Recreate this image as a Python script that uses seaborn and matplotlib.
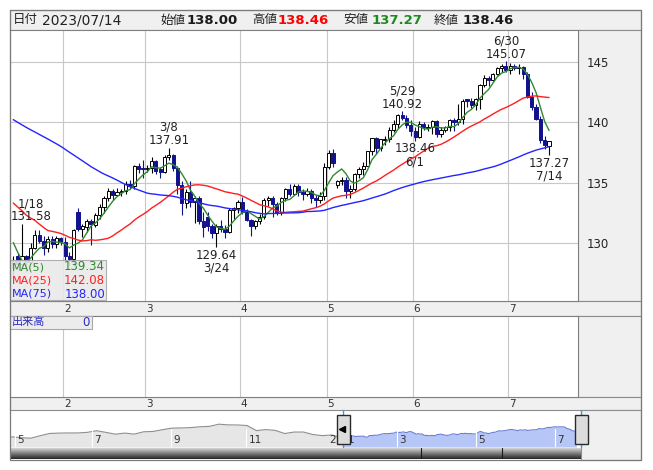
from __future__ import annotations

import matplotlib

matplotlib.use("Agg")

import matplotlib.pyplot as plt
import numpy as np
import pandas as pd
import seaborn as sns
from matplotlib.colors import LinearSegmentedColormap
from matplotlib.lines import Line2D
from matplotlib.patches import Rectangle

W, H = 653, 470

# daily candles, Tokyo business days 2023-01-16 .. 2023-07-14
first_day = "2023-01-16"
last_day = "2023-07-14"
holidays = ["2023-02-23", "2023-03-21", "2023-05-03", "2023-05-04", "2023-05-05"]

opens = [
    127.9, 128.9, 128.3, 128.9, 128.4, 129.6, 130.7, 130.2, 129.6, 130.3, 129.9, 130.4,
    130.1, 128.9, 128.7, 132.6, 131.2, 131.3, 131.8, 131.5, 132.3, 133.0, 133.7, 134.3, 134.0, 134.2, 134.3, 134.9, 134.7, 136.4, 136.2,
    136.1, 136.2, 136.8, 136.1, 135.9, 137.1, 137.3, 136.2, 134.8, 133.3, 134.2, 133.4, 133.7, 131.8, 132.2, 131.4, 130.8, 131.4, 131.2, 130.9, 132.7, 132.9,
    133.4, 132.6, 131.9, 131.4, 131.8, 132.2, 133.6, 133.7, 133.2, 132.6, 133.7, 134.5, 134.1, 134.7, 134.2, 134.1, 134.3, 133.7, 133.6, 133.9,
    136.3, 137.5, 134.8, 135.1, 135.2, 134.3, 134.5, 135.7, 136.1, 136.4, 137.6, 138.7, 137.9, 138.5, 138.6, 139.4, 139.9, 140.6, 140.4, 139.8,
    139.3, 138.8, 139.9, 139.5, 139.6, 140.1, 139.0, 139.4, 139.6, 140.2, 140.0, 140.3, 141.9, 141.8, 141.4, 141.9, 143.1, 143.7, 143.5, 144.0, 144.5, 144.7,
    144.3, 144.7, 144.5, 144.6, 144.0, 142.1, 141.3, 140.3, 138.5, 138.0,
]
highs = [
    128.9, 129.2, 131.58, 129.0, 130.0, 131.1, 131.1, 130.6, 130.6, 130.6, 130.6, 130.5,
    130.5, 129.3, 131.2, 132.9, 131.6, 132.0, 132.0, 132.5, 133.2, 133.9, 134.6, 134.5, 134.6, 134.5, 135.1, 135.2, 136.5, 136.6, 136.9,
    136.5, 137.1, 136.9, 136.3, 137.3, 137.91, 137.4, 136.4, 135.1, 134.5, 135.1, 133.9, 133.9, 132.6, 132.6, 131.6, 131.6, 131.9, 131.5, 132.9, 133.0, 133.6,
    133.8, 132.8, 132.0, 131.9, 132.4, 133.7, 133.9, 133.9, 133.4, 133.8, 134.6, 134.9, 134.9, 134.9, 134.5, 134.6, 134.5, 134.0, 134.2, 136.6,
    137.7, 137.8, 135.2, 135.5, 135.5, 134.8, 135.8, 136.3, 136.7, 137.6, 138.7, 138.8, 138.6, 138.9, 139.6, 140.2, 140.7, 140.92, 140.6, 140.2,
    139.6, 140.1, 140.0, 139.9, 140.2, 140.2, 139.6, 139.7, 140.3, 140.4, 141.5, 141.9, 141.9, 142.0, 142.0, 143.2, 143.9, 143.8, 144.1, 144.6, 144.8, 145.07,
    144.9, 144.8, 144.8, 144.7, 144.2, 142.5, 141.5, 140.5, 138.9, 138.46,
]
lows = [
    127.2, 127.9, 128.0, 127.6, 128.3, 129.5, 130.0, 129.0, 129.3, 129.6, 129.6, 129.8,
    128.5, 128.1, 128.1, 131.0, 130.5, 130.9, 129.8, 131.3, 132.0, 132.5, 133.5, 133.6, 133.9, 133.9, 134.1, 134.5, 134.5, 135.8, 135.4,
    135.9, 135.8, 135.7, 135.4, 135.8, 136.9, 136.0, 134.1, 132.3, 132.9, 133.0, 131.7, 131.6, 130.5, 131.0, 130.4, 129.64, 130.9, 130.4, 130.8, 132.0, 132.5,
    132.4, 131.8, 130.6, 131.2, 131.6, 132.0, 133.1, 132.2, 132.3, 132.3, 133.5, 133.9, 134.0, 133.9, 133.6, 133.9, 133.3, 133.0, 133.3, 133.6,
    136.1, 136.3, 134.6, 134.8, 133.7, 133.7, 134.3, 135.4, 135.6, 136.3, 137.3, 137.4, 137.6, 138.1, 138.4, 139.2, 139.5, 140.2, 139.5, 138.9,
    138.46, 138.7, 139.4, 139.3, 139.0, 138.8, 138.8, 139.2, 139.3, 139.3, 139.8, 139.9, 141.3, 141.2, 141.0, 141.1, 142.9, 143.0, 143.4, 143.9, 144.2, 144.2,
    144.0, 144.3, 144.0, 143.6, 142.0, 141.0, 140.2, 138.3, 137.8, 137.27,
]
closes = [
    128.5, 128.3, 128.9, 128.4, 129.6, 130.7, 130.2, 129.6, 130.3, 129.9, 130.4, 130.1,
    128.9, 128.7, 131.1, 131.2, 131.4, 131.8, 131.6, 132.3, 133.0, 133.7, 134.3, 134.0, 134.2, 134.3, 134.9, 134.7, 136.4, 136.1, 136.1,
    136.2, 136.8, 136.0, 135.9, 137.1, 137.3, 136.2, 134.8, 133.3, 134.2, 133.4, 133.7, 131.8, 131.3, 131.4, 130.8, 131.4, 131.2, 130.9, 132.7, 132.9, 133.4,
    132.6, 131.9, 131.4, 131.8, 132.2, 133.6, 133.7, 133.2, 132.6, 133.7, 134.5, 134.1, 134.7, 134.2, 134.1, 134.3, 133.7, 133.6, 133.9, 136.3,
    137.5, 136.6, 135.1, 135.2, 134.3, 134.5, 135.7, 136.1, 136.4, 137.6, 138.7, 137.9, 138.6, 138.6, 139.4, 139.9, 140.6, 140.4, 139.8, 139.3,
    138.8, 139.9, 139.6, 139.6, 140.1, 139.0, 139.4, 139.6, 140.2, 140.0, 140.3, 141.8, 141.8, 141.4, 141.9, 143.1, 143.7, 143.5, 144.0, 144.5, 144.7, 144.3,
    144.7, 144.5, 144.6, 144.0, 142.1, 141.3, 140.3, 138.5, 138.1, 138.46,
]
# the 74 sessions before the window, needed for the moving averages
prior_closes = [
    144.7, 144.8, 144.1, 144.5, 144.7,
    144.8, 144.1, 144.6, 145.1, 145.3, 145.8, 146.9, 147.2, 148.7, 149.0, 149.2, 149.9, 150.1, 147.6, 149.0, 148.0, 146.3, 146.3, 147.5, 148.7,
    148.2, 147.9, 146.6, 146.6, 145.6, 146.4, 141.0, 138.8, 139.9, 139.3, 139.5, 140.3, 140.4, 142.1, 141.2, 138.5, 139.1, 138.9, 138.7, 138.0,
    135.3, 134.3, 136.7, 137.0, 136.6, 136.6, 136.6, 137.7, 135.5, 135.5, 137.8, 136.6, 136.8, 131.6, 132.4, 132.4, 132.8, 132.9, 133.5, 134.5, 133.1, 131.1,
    129.9, 133.4, 132.1, 132.2, 132.4, 129.2, 127.9,
]
# weekly closes May 2022 .. Jan 2023 for the overview strip
nav_weekly = [
    130.6, 129.2, 127.9, 127.1, 130.9, 134.4, 135.0, 135.2, 135.2, 136.1, 138.6, 136.1, 133.3,
    135.0, 133.4, 137.0, 137.5, 140.2, 142.6, 142.9, 143.4, 144.7, 145.3, 148.7, 147.6, 147.5,
    146.6, 138.8, 140.4, 139.1, 134.3, 136.6, 136.6, 132.8, 131.1, 132.1, 127.9,
]
nav_month_labels = ["5", "7", "9", "11", "3", "5", "7"]

header_date = "2023/07/14"
header_names = ["始値", "高値", "安値", "終値"]
header_values = ["138.00", "138.46", "137.27", "138.46"]
ma_windows = [5, 25, 75]
ma_labels = ["MA(5)", "MA(25)", "MA(75)"]
ma_values = ["139.34", "142.08", "138.00"]
extremes = [("1/18", "131.58", "high"), ("3/8", "137.91", "high"), ("3/24", "129.64", "low"),
            ("5/29", "140.92", "high"), ("6/1", "138.46", "low"), ("6/30", "145.07", "high"),
            ("7/14", "137.27", "low")]

GRAY = "#f0f0f0"
EDGE = "#8c8c8c"
GRID = "#c8c8c8"
NAVY = "#12128e"
MA_COLORS = ["#2f8a2f", "#ff1e1e", "#2424ff"]
TEXT = "#222222"

sns.set_style("white")
plt.rcParams["font.family"] = ["DejaVu Sans", "Noto Sans CJK JP"]

fig = plt.figure(figsize=(W / 100, H / 100), dpi=100)


def px_axes(x0, y0, x1, y1):
    return fig.add_axes([x0 / W, 1 - y1 / H, (x1 - x0) / W, (y1 - y0) / H])


def px_rect(x0, y0, x1, y1, **kw):
    fig.add_artist(Rectangle((x0 / W, 1 - y1 / H), (x1 - x0) / W, (y1 - y0) / H,
                             transform=fig.transFigure, **kw))


def px_text(x, y, s, **kw):
    fig.text(x / W, 1 - y / H, s, **kw)


# background bands
for box in [(10, 10, 641, 30), (578, 30, 641, 301), (10, 301, 641, 316),
            (578, 316, 641, 397), (10, 397, 641, 410), (581, 410, 641, 460)]:
    px_rect(*box, facecolor=GRAY, edgecolor=EDGE, lw=0.8, zorder=-1)

dates = pd.bdate_range(first_day, last_day)
dates = dates[~dates.isin(pd.to_datetime(holidays))]
n = len(dates)
x = np.arange(n)
o, hi, lo, c = (np.array(v) for v in (opens, highs, lows, closes))
bounds = np.flatnonzero(np.diff(dates.month)) + 0.5
month_names = [str(dates[int(b + 0.5)].month) for b in bounds]
xlim = (-0.76, 130.7)

# ---- price panel
ax = px_axes(10, 30, 578, 301)
ax.set_xlim(*xlim)
ax.set_ylim(125.2, 147.65)
for v in [130, 135, 140, 145]:
    ax.axhline(v, color=GRID, lw=0.8, zorder=0)
for b in bounds:
    ax.axvline(b, color=GRID, lw=0.8, zorder=0)
ax.set_xticks([])
ax.set_yticks([130, 135, 140, 145])
ax.yaxis.tick_right()
ax.tick_params(axis="y", length=0, pad=6, labelsize=8.5, labelcolor=TEXT)
for sp in ax.spines.values():
    sp.set_color("#808080")
    sp.set_linewidth(0.8)

up = c >= o
body_lo = np.minimum(o, c)
body_h = np.maximum(np.abs(c - o), 0.05)
ax.vlines(x, lo, hi, colors=np.where(up, "black", NAVY), lw=0.8, zorder=2)
ax.bar(x[up], body_h[up], bottom=body_lo[up], width=0.74, color="white",
       edgecolor="black", linewidth=0.7, zorder=3)
ax.bar(x[~up], body_h[~up], bottom=body_lo[~up], width=0.74, color=NAVY,
       edgecolor=NAVY, linewidth=0.7, zorder=3)

all_closes = pd.Series(prior_closes + closes)
for w, col in zip(ma_windows, MA_COLORS):
    ma = all_closes.rolling(w).mean().iloc[len(prior_closes):].to_numpy()
    sns.lineplot(x=x, y=ma, ax=ax, color=col, linewidth=1.0, zorder=4, legend=False)

for lab, val, kind in extremes:
    m, d = (int(t) for t in lab.split("/"))
    i = int(np.flatnonzero(dates == pd.Timestamp(2023, m, d))[0])
    xt = max(i, xlim[0] + 4.9)
    if kind == "high":
        ax.text(xt, hi[i] + 0.05, f"{lab}\n{val}", ha="center", va="bottom",
                fontsize=8.5, color=TEXT, linespacing=1.0, zorder=6)
    else:
        ax.text(xt, lo[i] - 0.1, f"{val}\n{lab}", ha="center", va="top",
                fontsize=8.5, color=TEXT, linespacing=1.0, zorder=6)

# moving-average legend box
px_rect(10, 260, 106, 300, facecolor="#e9e9e9", edgecolor="#a8a8a8", lw=0.8, alpha=0.9, zorder=5)
for k, (lab, val, col) in enumerate(zip(ma_labels, ma_values, MA_COLORS)):
    yy = 267 + 13.5 * k
    px_text(12, yy, lab, color=col, fontsize=8, va="center", ha="left", zorder=6)
    px_text(105, yy, val, color=col, fontsize=8.5, va="center", ha="right", zorder=6)

# ---- header
px_text(13, 20, "日付", fontsize=9, va="center", color=TEXT)
px_text(42, 20, header_date, fontsize=10, va="center", color=TEXT)
name_x = [160, 252, 343, 434]
val_x = [187, 278, 372, 463]
val_colors = ["#1a1a1a", "#ff0000", "#1e8a1e", "#1a1a1a"]
for nm, vl, nx, vx, vc in zip(header_names, header_values, name_x, val_x, val_colors):
    px_text(nx, 20, nm, fontsize=9, va="center", color=TEXT)
    px_text(vx, 20, vl, fontsize=9.5, fontweight="bold", va="center", color=vc)

# ---- date bars
for y0, y1 in [(301, 316), (397, 410)]:
    axd = px_axes(10, y0, 578, y1)
    axd.set_xlim(*xlim)
    axd.set_ylim(0, 1)
    axd.axis("off")
    for b, lab in zip(bounds, month_names):
        axd.text(b + 0.95, 0.45, lab, ha="center", va="center", fontsize=7.5, color="#333333")

# ---- volume panel
axv = px_axes(10, 316, 578, 397)
axv.set_xlim(*xlim)
axv.set_ylim(0, 1)
for b in bounds:
    axv.axvline(b, color=GRID, lw=0.8)
axv.set_xticks([])
axv.set_yticks([])
for sp in axv.spines.values():
    sp.set_color("#808080")
    sp.set_linewidth(0.8)
px_rect(10, 316, 92, 329, facecolor="#ececec", edgecolor="#a8a8a8", lw=0.8, zorder=5)
px_text(12, 322.5, "出来高", fontsize=8, color="#2a2ac8", va="center", zorder=6)
px_text(90, 322.5, "0", fontsize=8.5, color="#2a2ac8", va="center", ha="right", zorder=6)

# ---- overview strip
axn = px_axes(10, 410, 581, 447)
axn.set_xlim(-177, 126.5)
axn.set_ylim(113.6, 170.5)
axn.axis("off")
nav_x = np.arange(len(nav_weekly)) * 5 - 5 * (len(nav_weekly) - 1) - 1
gx = np.append(nav_x, 0)
gy = np.append(nav_weekly, closes[0])
axn.fill_between(gx, gy, 113.6, color="#e6e6e6", lw=0)
sns.lineplot(x=gx, y=gy, ax=axn, color="#8e8e8e", linewidth=0.8, legend=False)
axn.fill_between(x, c, 113.6, color="#b6c6f6", lw=0)
sns.lineplot(x=x, y=c, ax=axn, color="#6c7fd6", linewidth=0.8, legend=False)
nav_starts = [-172, -131, -89, -49, 31, 73, 115]
for s, lab in zip(nav_starts, nav_month_labels):
    axn.axvline(s - 2.5, ymin=0, ymax=0.5, color="white", lw=0.8)
    axn.text(s - 1.2, 0.2, lab, transform=axn.get_xaxis_transform(), fontsize=7.5,
             ha="left", va="center", color="#333333")
px_text(333, 440, "2", fontsize=7.5, va="center", ha="center", color="#333333")
px_text(351, 440, "1", fontsize=7.5, va="center", ha="center", color="#333333")

for xx in (343, 581):
    fig.add_artist(Line2D([xx / W, xx / W], [1 - 447 / H, 1 - 410 / H], color="#3aa0c8",
                          lw=1.0, transform=fig.transFigure, zorder=5))
px_rect(337, 415, 350, 444, facecolor="#dcdcdc", edgecolor="#2a2a2a", lw=1.0, zorder=6)
px_rect(575, 415, 588, 444, facecolor="#dcdcdc", edgecolor="#2a2a2a", lw=1.0, zorder=6)
fig.add_artist(Line2D([341.5 / W], [1 - 429 / H], marker="<", ms=4, color="black",
                      transform=fig.transFigure, zorder=7))

# scroll bar
axs = px_axes(10, 448, 581, 459)
cmap = LinearSegmentedColormap.from_list("bar", ["#d4d4d4", "#7a7a7a", "#262626"])
axs.imshow(np.linspace(0, 1, 30).reshape(-1, 1), aspect="auto", cmap=cmap,
           extent=(0, 1, 0, 1))
for f in ((421 - 10) / 571, (502 - 10) / 571):
    axs.axvline(f, color="#1a1a1a", lw=0.8)
axs.set_xlim(0, 1)
axs.set_ylim(0, 1)
axs.axis("off")

# outer frame
px_rect(10, 10, 641, 460, fill=False, edgecolor="#7a7a7a", lw=0.9, zorder=8)

fig.savefig("out.png", dpi=100)
